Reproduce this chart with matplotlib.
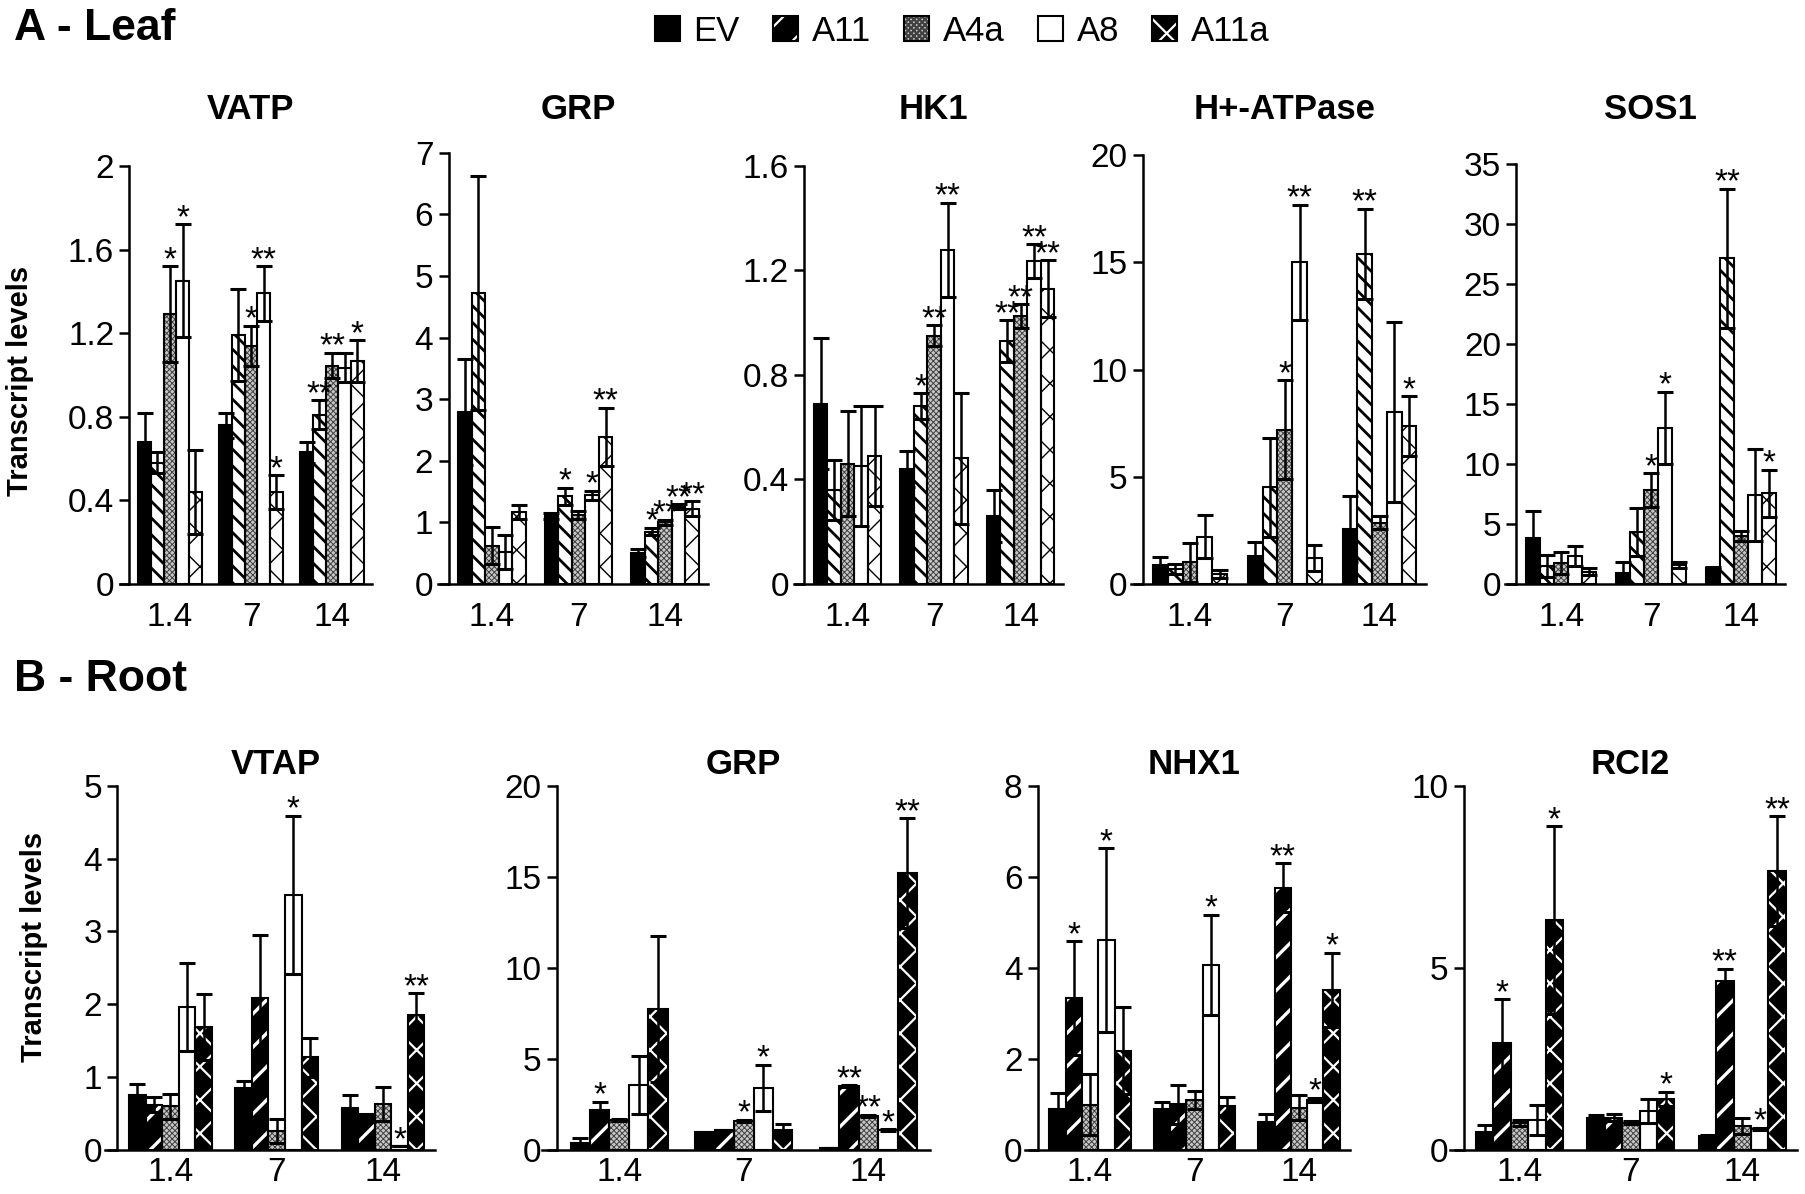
import numpy as np
import matplotlib
matplotlib.use('Agg')
import matplotlib.pyplot as plt
import matplotlib.patches as mpatches
from matplotlib.legend_handler import HandlerTuple

plt.rcParams['font.family'] = ['Liberation Sans', 'DejaVu Sans']

# ---- data ---------------------------------------------------------------
days = ['1.4', '7', '14']
lines = ['EV', 'A11', 'A4a', 'A8', 'A11a']

# leaf
vatp_mean = [[0.68, 0.58, 1.29, 1.45, 0.44],
             [0.76, 1.19, 1.14, 1.39, 0.44],
             [0.63, 0.81, 1.045, 1.035, 1.065]]
vatp_err = [[0.14, 0.05, 0.23, 0.27, 0.20],
            [0.06, 0.22, 0.095, 0.13, 0.08],
            [0.05, 0.07, 0.06, 0.07, 0.10]]
vatp_sig = [['', '', '*', '*', ''],
            ['', '', '*', '**', '*'],
            ['', '**', '**', '', '*']]

grp_leaf_mean = [[2.79, 4.73, 0.62, 0.52, 1.17],
                 [1.10, 1.42, 1.12, 1.44, 2.39],
                 [0.50, 0.85, 1.00, 1.25, 1.22]]
grp_leaf_err = [[0.86, 1.90, 0.30, 0.28, 0.11],
                [0.05, 0.14, 0.07, 0.07, 0.47],
                [0.06, 0.06, 0.04, 0.04, 0.12]]
grp_leaf_sig = [['', '', '', '', ''],
                ['', '*', '', '*', '**'],
                ['', '*', '**', '**', '**']]

hk1_mean = [[0.69, 0.36, 0.46, 0.45, 0.49],
            [0.44, 0.68, 0.95, 1.28, 0.48],
            [0.26, 0.93, 1.025, 1.235, 1.13]]
hk1_err = [[0.25, 0.115, 0.20, 0.23, 0.19],
           [0.07, 0.05, 0.04, 0.18, 0.25],
           [0.10, 0.08, 0.045, 0.065, 0.11]]
hk1_sig = [['', '', '', '', ''],
           ['', '*', '**', '**', ''],
           ['', '**', '**', '**', '**']]

hatp_mean = [[0.90, 0.70, 1.00, 2.20, 0.46],
             [1.30, 4.50, 7.20, 15.0, 1.20],
             [2.55, 15.4, 2.85, 8.0, 7.35]]
hatp_err = [[0.35, 0.25, 0.90, 1.0, 0.20],
            [0.65, 2.3, 2.3, 2.7, 0.6],
            [1.55, 2.1, 0.3, 4.2, 1.4]]
hatp_sig = [['', '', '', '', ''],
            ['', '', '*', '**', ''],
            ['', '**', '', '', '*']]

sos1_mean = [[3.8, 1.5, 1.75, 2.3, 1.0],
             [0.9, 4.3, 7.8, 13.0, 1.6],
             [1.3, 27.1, 4.0, 7.4, 7.55]]
sos1_err = [[2.3, 0.9, 0.9, 0.85, 0.3],
            [0.9, 2.0, 1.4, 3.0, 0.25],
            [0.1, 5.8, 0.4, 3.8, 1.95]]
sos1_sig = [['', '', '', '', ''],
            ['', '', '*', '*', ''],
            ['', '**', '', '', '*']]

# root
vtap_mean = [[0.76, 0.62, 0.60, 1.96, 1.69],
             [0.85, 2.09, 0.26, 3.50, 1.27],
             [0.57, 0.48, 0.63, 0.05, 1.85]]
vtap_err = [[0.14, 0.10, 0.17, 0.60, 0.45],
            [0.10, 0.86, 0.17, 1.09, 0.27],
            [0.19, 0.02, 0.23, 0.0, 0.30]]
vtap_sig = [['', '', '', '', ''],
            ['', '', '', '*', ''],
            ['', '', '', '*', '**']]

grp_root_mean = [[0.37, 2.2, 1.64, 3.55, 7.75],
                 [0.97, 1.07, 1.6, 3.4, 1.08],
                 [0.10, 3.5, 1.87, 1.1, 15.2]]
grp_root_err = [[0.28, 0.45, 0.05, 1.6, 4.0],
                [0.03, 0.04, 0.05, 1.27, 0.37],
                [0.02, 0.05, 0.05, 0.05, 3.0]]
grp_root_sig = [['', '*', '', '', ''],
                ['', '', '*', '*', ''],
                ['', '**', '**', '*', '**']]

nhx1_mean = [[0.91, 3.33, 0.99, 4.61, 2.18],
             [0.91, 1.0, 1.1, 4.07, 0.96],
             [0.62, 5.76, 0.93, 1.1, 3.51]]
nhx1_err = [[0.34, 1.25, 0.67, 2.02, 0.96],
            [0.14, 0.42, 0.2, 1.1, 0.2],
            [0.18, 0.54, 0.28, 0.05, 0.82]]
nhx1_sig = [['', '*', '', '*', ''],
            ['', '', '', '*', ''],
            ['', '**', '', '*', '*']]

rci2_mean = [[0.48, 2.94, 0.75, 0.82, 6.3],
             [0.89, 0.89, 0.75, 1.07, 1.4],
             [0.37, 4.63, 0.65, 0.58, 7.66]]
rci2_err = [[0.21, 1.19, 0.08, 0.41, 2.58],
            [0.07, 0.10, 0.05, 0.33, 0.2],
            [0.03, 0.35, 0.22, 0.03, 1.5]]
rci2_sig = [['', '*', '', '', '*'],
            ['', '', '', '', '*'],
            ['', '**', '', '*', '**']]

# ---- styles (face, hatch, hatch colour, hatch lw) -------------------------
leaf_style = [('black', None, None, 0),
              ('white', '\\\\', 'black', 2.0),
              ('#c8c8c8', 'xxxxxx', '#404040', 0.7),
              ('white', None, None, 0),
              ('white', 'x', 'black', 1.0)]
root_style = [('black', None, None, 0),
              ('black', '/', 'white', 2.4),
              ('#c8c8c8', 'xxxxxx', '#404040', 0.7),
              ('white', None, None, 0),
              ('black', 'x', 'white', 1.6)]

W = 0.156


def hbar(ax, xs, vals, face, hatch, hcol, hlw):
    ax.bar(xs, vals, W, color=face, edgecolor='black', linewidth=0, zorder=2)
    if hatch:
        plt.rcParams['hatch.linewidth'] = hlw
        bb = ax.bar(xs, vals, W, facecolor='none', edgecolor=hcol,
                    hatch=hatch, linewidth=0, zorder=2.1)
        for p in bb:
            if hasattr(p, 'set_hatch_linewidth'):
                p.set_hatch_linewidth(hlw)
    ax.bar(xs, vals, W, facecolor='none', edgecolor='black', linewidth=1.5,
           zorder=2.2)


def panel(rect, mean, err, sig, ticks, style, xpad):
    ax = fig.add_axes(rect)
    mean = np.array(mean)
    err = np.array(err)
    x = np.arange(len(days))
    for j in range(len(lines)):
        xs = x + (j - 2) * W
        face, hatch, hcol, hlw = style[j]
        hbar(ax, xs, mean[:, j], face, hatch, hcol, hlw)
        ax.errorbar(xs, mean[:, j], yerr=err[:, j], fmt='none', ecolor='black',
                    elinewidth=1.8, capsize=6, capthick=2.2, zorder=3)
        for g in range(len(days)):
            if sig[g][j]:
                ax.annotate(sig[g][j], (xs[g], mean[g, j] + err[g, j]),
                            xytext=(0, -2), textcoords='offset points',
                            ha='center', va='baseline', fontsize=24, zorder=4)
    ax.set_xlim(-0.62, 2.49)
    ax.set_ylim(0, ticks[-1])
    ax.set_yticks(ticks)
    ax.set_yticklabels(['{:g}'.format(t) for t in ticks])
    ax.set_xticks(x)
    ax.set_xticklabels(days)
    ax.spines['left'].set_position(('data', -0.5))
    ax.spines['top'].set_visible(False)
    ax.spines['right'].set_visible(False)
    for s in ('left', 'bottom'):
        ax.spines[s].set_linewidth(1.8)
    ax.tick_params(axis='y', length=7, width=1.8, labelsize=24, pad=4)
    ax.tick_params(axis='x', length=0, labelsize=24, pad=xpad)
    ax.patch.set_alpha(0)
    return ax


fig = plt.figure(figsize=(18.05, 11.94), dpi=100)


def rect(spine, end, bottom, top):
    ext = 0.12 / 2.99 * (end - spine)
    return [spine - ext, bottom, end - spine + ext, top - bottom]


leaf_b = 0.511
leaf_panels = [
    ('VATP', vatp_mean, vatp_err, vatp_sig, [0, 0.4, 0.8, 1.2, 1.6, 2], 0.0717, 0.206, 0.861),
    ('GRP', grp_leaf_mean, grp_leaf_err, grp_leaf_sig, list(range(8)), 0.2485, 0.392, 0.872),
    ('HK1', hk1_mean, hk1_err, hk1_sig, [0, 0.4, 0.8, 1.2, 1.6], 0.4456, 0.589, 0.861),
    ('H+-ATPase', hatp_mean, hatp_err, hatp_sig, [0, 5, 10, 15, 20], 0.633, 0.790, 0.870),
    ('SOS1', sos1_mean, sos1_err, sos1_sig, [0, 5, 10, 15, 20, 25, 30, 35], 0.840, 0.989, 0.863),
]
for title, m, e, s, t, sp, en, tp in leaf_panels:
    panel(rect(sp, en, leaf_b, tp), m, e, s, t, leaf_style, 13)
    fig.text((sp + en) / 2, 0.908, title, ha='center', va='center',
             fontsize=25, fontweight='bold')

root_b = 0.0369
root_t = 0.342
root_panels = [
    ('VTAP', vtap_mean, vtap_err, vtap_sig, [0, 1, 2, 3, 4, 5], 0.065, 0.241),
    ('GRP', grp_root_mean, grp_root_err, grp_root_sig, [0, 5, 10, 15, 20], 0.3085, 0.515),
    ('NHX1', nhx1_mean, nhx1_err, nhx1_sig, [0, 2, 4, 6, 8], 0.575, 0.748),
    ('RCI2', rci2_mean, rci2_err, rci2_sig, [0, 5, 10], 0.811, 0.9955),
]
for title, m, e, s, t, sp, en in root_panels:
    panel(rect(sp, en, root_b, root_t), m, e, s, t, root_style, 5)
    fig.text((sp + en) / 2, 0.360, title, ha='center', va='center',
             fontsize=25, fontweight='bold')

fig.text(0.011, 0.681, 'Transcript levels', rotation=90, ha='center',
         va='center', fontsize=21, fontweight='bold')
fig.text(0.019, 0.207, 'Transcript levels', rotation=90, ha='center',
         va='center', fontsize=21, fontweight='bold')

fig.text(0.008, 0.976, 'A - Leaf', ha='left', va='center', fontsize=32,
         fontweight='bold')
fig.text(0.008, 0.431, 'B - Root', ha='left', va='center', fontsize=32,
         fontweight='bold')

# legend
handles = []
for face, hatch, hcol, hlw in root_style:
    parts = [mpatches.Patch(facecolor=face, edgecolor='black', linewidth=0)]
    if hatch:
        plt.rcParams['hatch.linewidth'] = hlw
        hp = mpatches.Patch(facecolor='none', edgecolor=hcol, hatch=hatch,
                            linewidth=0)
        parts.append(hp)
    parts.append(mpatches.Patch(facecolor='none', edgecolor='black', linewidth=1.5))
    handles.append(tuple(parts))
fig.legend(handles, lines, loc='center', bbox_to_anchor=(0.533, 0.974),
           ncol=5, frameon=False, fontsize=25, handlelength=0.72,
           handleheight=0.72, handletextpad=0.4, columnspacing=0.95,
           handler_map={tuple: HandlerTuple(ndivide=1, pad=0)})

fig.savefig('out.png', dpi=100)
